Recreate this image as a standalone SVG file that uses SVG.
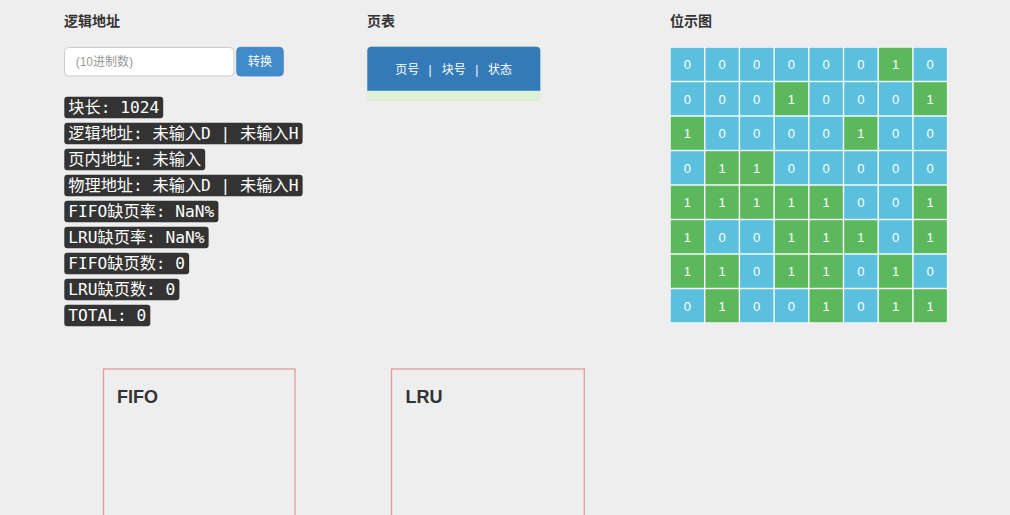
<svg xmlns="http://www.w3.org/2000/svg" width="1010" height="515" viewBox="0 0 1010 515">
<style>
.h{font-family:"Liberation Sans","Noto Sans CJK SC",sans-serif;font-weight:bold;font-size:14px;fill:#333}
.k{fill:#333}
.kt{font-family:"DejaVu Sans Mono","Noto Sans CJK SC",monospace;font-size:16.2px;fill:#fff}
.b{fill:#5bc0de}
.g{fill:#5cb85c}
.ct{font-family:"Liberation Sans","Noto Sans CJK SC",sans-serif;font-size:13px;fill:#fff;text-anchor:middle}
.w{font-family:"Liberation Sans","Noto Sans CJK SC",sans-serif;font-size:12px;fill:#fff}
.box{fill:none;stroke:#e39b9b;stroke-width:1.3}
.bt{font-family:"Liberation Sans","Noto Sans CJK SC",sans-serif;font-weight:bold;font-size:18px;fill:#333}
</style>
<rect width="1010" height="515" fill="#eeeeee"/>

<g id="logic-address">
<text class="h" x="64" y="26">逻辑地址</text>
<rect x="64.5" y="47.5" width="169.5" height="28.5" rx="4" fill="#fff" stroke="#ccc"/>
<text x="75.7" y="66" font-family="Liberation Sans,'Noto Sans CJK SC',sans-serif" font-size="12" fill="#999">(10进制数)</text>
</g>
<g id="convert-button">
<rect x="236.7" y="47.3" width="46.6" height="28.7" rx="4" fill="#428bca" stroke="#3a7fc0" stroke-width="0.8"/>
<text class="w" x="260" y="66" text-anchor="middle">转换</text>
</g>

<g id="info">
<rect class="k" x="64.3" y="96.7" width="98.9" height="21.6" rx="3"/>
<text class="kt" x="68.3" y="112.5">块长: 1024</text>
<rect class="k" x="64.3" y="122.7" width="238.3" height="21.6" rx="3"/>
<text class="kt" x="68.3" y="138.5">逻辑地址: 未输入D | 未输入H</text>
<rect class="k" x="64.3" y="148.7" width="140.9" height="21.6" rx="3"/>
<text class="kt" x="68.3" y="164.5">页内地址: 未输入</text>
<rect class="k" x="64.3" y="174.7" width="238.3" height="21.6" rx="3"/>
<text class="kt" x="68.3" y="190.5">物理地址: 未输入D | 未输入H</text>
<rect class="k" x="64.3" y="200.7" width="154.1" height="21.6" rx="3"/>
<text class="kt" x="68.3" y="216.5">FIFO缺页率: NaN%</text>
<rect class="k" x="64.3" y="226.7" width="144.35" height="21.6" rx="3"/>
<text class="kt" x="68.3" y="242.5">LRU缺页率: NaN%</text>
<rect class="k" x="64.3" y="252.7" width="124.85" height="21.6" rx="3"/>
<text class="kt" x="68.3" y="268.5">FIFO缺页数: 0</text>
<rect class="k" x="64.3" y="278.7" width="115.1" height="21.6" rx="3"/>
<text class="kt" x="68.3" y="294.5">LRU缺页数: 0</text>
<rect class="k" x="64.3" y="304.7" width="86" height="21.6" rx="3"/>
<text class="kt" x="68.3" y="320.5">TOTAL: 0</text>
</g>

<g id="page-table">
<text class="h" x="367" y="26">页表</text>
<rect x="367.3" y="46.7" width="173" height="54" rx="4" fill="#dff0d8" stroke="#d6e9c6" stroke-width="0.6"/>
<path d="M367.3,90.7 V50.7 a4,4 0 0 1 4,-4 H536.3 a4,4 0 0 1 4,4 V90.7 Z" fill="#337ab7"/>
<text class="w" x="407.2" y="74" text-anchor="middle">页号</text>
<text class="w" x="430" y="74" text-anchor="middle">|</text>
<text class="w" x="453.8" y="74" text-anchor="middle">块号</text>
<text class="w" x="476.7" y="74" text-anchor="middle">|</text>
<text class="w" x="500" y="74" text-anchor="middle">状态</text>
</g>

<g id="bitmap">
<text class="h" x="670" y="26">位示图</text>
<rect x="670" y="47" width="277.5" height="276" fill="#fff"/>
<g id="bitmap-cells">
<!-- row 0: 0 0 0 0 0 0 1 0 -->
<rect class="b" x="670.7" y="47.7" width="33.3" height="33.1"/>
<rect class="b" x="705.4" y="47.7" width="33.3" height="33.1"/>
<rect class="b" x="740.1" y="47.7" width="33.3" height="33.1"/>
<rect class="b" x="774.8" y="47.7" width="33.3" height="33.1"/>
<rect class="b" x="809.5" y="47.7" width="33.3" height="33.1"/>
<rect class="b" x="844.2" y="47.7" width="33.3" height="33.1"/>
<rect class="g" x="878.9" y="47.7" width="33.3" height="33.1"/>
<rect class="b" x="913.6" y="47.7" width="33.3" height="33.1"/>
<!-- row 1: 0 0 0 1 0 0 0 1 -->
<rect class="b" x="670.7" y="82.2" width="33.3" height="33.1"/>
<rect class="b" x="705.4" y="82.2" width="33.3" height="33.1"/>
<rect class="b" x="740.1" y="82.2" width="33.3" height="33.1"/>
<rect class="g" x="774.8" y="82.2" width="33.3" height="33.1"/>
<rect class="b" x="809.5" y="82.2" width="33.3" height="33.1"/>
<rect class="b" x="844.2" y="82.2" width="33.3" height="33.1"/>
<rect class="b" x="878.9" y="82.2" width="33.3" height="33.1"/>
<rect class="g" x="913.6" y="82.2" width="33.3" height="33.1"/>
<!-- row 2: 1 0 0 0 0 1 0 0 -->
<rect class="g" x="670.7" y="116.7" width="33.3" height="33.1"/>
<rect class="b" x="705.4" y="116.7" width="33.3" height="33.1"/>
<rect class="b" x="740.1" y="116.7" width="33.3" height="33.1"/>
<rect class="b" x="774.8" y="116.7" width="33.3" height="33.1"/>
<rect class="b" x="809.5" y="116.7" width="33.3" height="33.1"/>
<rect class="g" x="844.2" y="116.7" width="33.3" height="33.1"/>
<rect class="b" x="878.9" y="116.7" width="33.3" height="33.1"/>
<rect class="b" x="913.6" y="116.7" width="33.3" height="33.1"/>
<!-- row 3: 0 1 1 0 0 0 0 0 -->
<rect class="b" x="670.7" y="151.2" width="33.3" height="33.1"/>
<rect class="g" x="705.4" y="151.2" width="33.3" height="33.1"/>
<rect class="g" x="740.1" y="151.2" width="33.3" height="33.1"/>
<rect class="b" x="774.8" y="151.2" width="33.3" height="33.1"/>
<rect class="b" x="809.5" y="151.2" width="33.3" height="33.1"/>
<rect class="b" x="844.2" y="151.2" width="33.3" height="33.1"/>
<rect class="b" x="878.9" y="151.2" width="33.3" height="33.1"/>
<rect class="b" x="913.6" y="151.2" width="33.3" height="33.1"/>
<!-- row 4: 1 1 1 1 1 0 0 1 -->
<rect class="g" x="670.7" y="185.7" width="33.3" height="33.1"/>
<rect class="g" x="705.4" y="185.7" width="33.3" height="33.1"/>
<rect class="g" x="740.1" y="185.7" width="33.3" height="33.1"/>
<rect class="g" x="774.8" y="185.7" width="33.3" height="33.1"/>
<rect class="g" x="809.5" y="185.7" width="33.3" height="33.1"/>
<rect class="b" x="844.2" y="185.7" width="33.3" height="33.1"/>
<rect class="b" x="878.9" y="185.7" width="33.3" height="33.1"/>
<rect class="g" x="913.6" y="185.7" width="33.3" height="33.1"/>
<!-- row 5: 1 0 0 1 1 1 0 1 -->
<rect class="g" x="670.7" y="220.2" width="33.3" height="33.1"/>
<rect class="b" x="705.4" y="220.2" width="33.3" height="33.1"/>
<rect class="b" x="740.1" y="220.2" width="33.3" height="33.1"/>
<rect class="g" x="774.8" y="220.2" width="33.3" height="33.1"/>
<rect class="g" x="809.5" y="220.2" width="33.3" height="33.1"/>
<rect class="g" x="844.2" y="220.2" width="33.3" height="33.1"/>
<rect class="b" x="878.9" y="220.2" width="33.3" height="33.1"/>
<rect class="g" x="913.6" y="220.2" width="33.3" height="33.1"/>
<!-- row 6: 1 1 0 1 1 0 1 0 -->
<rect class="g" x="670.7" y="254.7" width="33.3" height="33.1"/>
<rect class="g" x="705.4" y="254.7" width="33.3" height="33.1"/>
<rect class="b" x="740.1" y="254.7" width="33.3" height="33.1"/>
<rect class="g" x="774.8" y="254.7" width="33.3" height="33.1"/>
<rect class="g" x="809.5" y="254.7" width="33.3" height="33.1"/>
<rect class="b" x="844.2" y="254.7" width="33.3" height="33.1"/>
<rect class="g" x="878.9" y="254.7" width="33.3" height="33.1"/>
<rect class="b" x="913.6" y="254.7" width="33.3" height="33.1"/>
<!-- row 7: 0 1 0 0 1 0 1 1 -->
<rect class="b" x="670.7" y="289.2" width="33.3" height="33.1"/>
<rect class="g" x="705.4" y="289.2" width="33.3" height="33.1"/>
<rect class="b" x="740.1" y="289.2" width="33.3" height="33.1"/>
<rect class="b" x="774.8" y="289.2" width="33.3" height="33.1"/>
<rect class="g" x="809.5" y="289.2" width="33.3" height="33.1"/>
<rect class="b" x="844.2" y="289.2" width="33.3" height="33.1"/>
<rect class="g" x="878.9" y="289.2" width="33.3" height="33.1"/>
<rect class="g" x="913.6" y="289.2" width="33.3" height="33.1"/>
</g>
<g id="bitmap-values">
<text class="ct" y="69"><tspan x="687.3">0</tspan><tspan x="722">0</tspan><tspan x="756.7">0</tspan><tspan x="791.4">0</tspan><tspan x="826.1">0</tspan><tspan x="860.8">0</tspan><tspan x="895.5">1</tspan><tspan x="930.2">0</tspan></text>
<text class="ct" y="103.5"><tspan x="687.3">0</tspan><tspan x="722">0</tspan><tspan x="756.7">0</tspan><tspan x="791.4">1</tspan><tspan x="826.1">0</tspan><tspan x="860.8">0</tspan><tspan x="895.5">0</tspan><tspan x="930.2">1</tspan></text>
<text class="ct" y="138"><tspan x="687.3">1</tspan><tspan x="722">0</tspan><tspan x="756.7">0</tspan><tspan x="791.4">0</tspan><tspan x="826.1">0</tspan><tspan x="860.8">1</tspan><tspan x="895.5">0</tspan><tspan x="930.2">0</tspan></text>
<text class="ct" y="172.5"><tspan x="687.3">0</tspan><tspan x="722">1</tspan><tspan x="756.7">1</tspan><tspan x="791.4">0</tspan><tspan x="826.1">0</tspan><tspan x="860.8">0</tspan><tspan x="895.5">0</tspan><tspan x="930.2">0</tspan></text>
<text class="ct" y="207"><tspan x="687.3">1</tspan><tspan x="722">1</tspan><tspan x="756.7">1</tspan><tspan x="791.4">1</tspan><tspan x="826.1">1</tspan><tspan x="860.8">0</tspan><tspan x="895.5">0</tspan><tspan x="930.2">1</tspan></text>
<text class="ct" y="241.5"><tspan x="687.3">1</tspan><tspan x="722">0</tspan><tspan x="756.7">0</tspan><tspan x="791.4">1</tspan><tspan x="826.1">1</tspan><tspan x="860.8">1</tspan><tspan x="895.5">0</tspan><tspan x="930.2">1</tspan></text>
<text class="ct" y="276"><tspan x="687.3">1</tspan><tspan x="722">1</tspan><tspan x="756.7">0</tspan><tspan x="791.4">1</tspan><tspan x="826.1">1</tspan><tspan x="860.8">0</tspan><tspan x="895.5">1</tspan><tspan x="930.2">0</tspan></text>
<text class="ct" y="310.5"><tspan x="687.3">0</tspan><tspan x="722">1</tspan><tspan x="756.7">0</tspan><tspan x="791.4">0</tspan><tspan x="826.1">1</tspan><tspan x="860.8">0</tspan><tspan x="895.5">1</tspan><tspan x="930.2">1</tspan></text>
</g>
</g>

<g id="fifo">
<rect class="box" x="103.5" y="369" width="191.5" height="160"/>
<text class="bt" x="117" y="402.7">FIFO</text>
</g>
<g id="lru">
<rect class="box" x="391.5" y="369" width="192.8" height="160"/>
<text class="bt" x="405.5" y="402.7">LRU</text>
</g>
<g id="connectors"/>
</svg>
